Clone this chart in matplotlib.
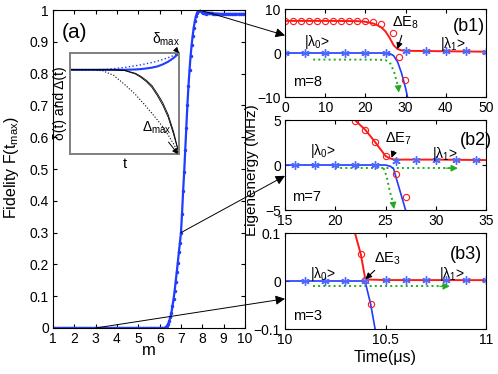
import matplotlib
matplotlib.use("Agg")
import matplotlib.pyplot as plt
from matplotlib.patches import ConnectionPatch

plt.rcParams['font.family'] = ['Liberation Sans', 'DejaVu Sans']
plt.rcParams['mathtext.fontset'] = 'custom'
plt.rcParams['mathtext.rm'] = 'Liberation Sans'
plt.rcParams['mathtext.it'] = 'Liberation Sans:italic'
plt.rcParams['mathtext.default'] = 'rm'

BLUE = '#1f3cff'
RED = '#ff1a1a'
GREEN = '#22aa22'
STAR = '#4f6bff'

# ---------------- data: panel (a) ----------------
m_vals = [1.0, 1.1, 1.2, 1.3, 1.4, 1.5, 1.6, 1.7, 1.8, 1.9,
          2.0, 2.1, 2.2, 2.3, 2.4, 2.5, 2.6, 2.7, 2.8, 2.9,
          3.0, 3.1, 3.2, 3.3, 3.4, 3.5, 3.6, 3.7, 3.8, 3.9,
          4.0, 4.1, 4.2, 4.3, 4.4, 4.5, 4.6, 4.7, 4.8, 4.9,
          5.0, 5.1, 5.2, 5.3, 5.4, 5.5, 5.6, 5.7, 5.8, 5.9,
          6.0, 6.1, 6.2, 6.25, 6.3, 6.35, 6.4, 6.45, 6.5, 6.55,
          6.6, 6.65, 6.7, 6.75, 6.8, 6.85, 6.9, 6.95, 7.0, 7.05,
          7.1, 7.15, 7.2, 7.25, 7.3, 7.35, 7.4, 7.45, 7.5, 7.55,
          7.6, 7.65, 7.7, 7.75, 7.8, 7.85, 7.9, 7.95, 8.0, 8.05,
          8.1, 8.15, 8.2, 8.25, 8.3, 8.35, 8.4, 8.45, 8.5,
          8.6, 8.7, 8.8, 8.9, 9.0, 9.1, 9.2, 9.3, 9.4, 9.5,
          9.6, 9.7, 9.8, 9.9, 10.0]
fidelity = [0, 0, 0, 0, 0, 0, 0, 0, 0, 0,
            0, 0, 0, 0, 0, 0, 0, 0, 0, 0,
            0, 0, 0, 0, 0, 0, 0, 0, 0, 0,
            0, 0, 0, 0, 0, 0, 0, 0, 0, 0,
            0, 0, 0, 0, 0, 0, 0, 0, 0, 0,
            0, 0, 0, 0.001, 0.003, 0.007, 0.013, 0.022, 0.034, 0.047,
            0.068, 0.09, 0.115, 0.145, 0.175, 0.205, 0.238, 0.268, 0.30, 0.36,
            0.43, 0.49, 0.56, 0.63, 0.70, 0.76, 0.81, 0.855, 0.89, 0.92,
            0.945, 0.965, 0.98, 0.99, 0.997, 1.0, 1.0, 0.998, 0.995, 0.992,
            0.99, 0.989, 0.99, 0.991, 0.991, 0.99, 0.99, 0.99, 0.989,
            0.989, 0.989, 0.988, 0.988, 0.988, 0.988, 0.988, 0.988, 0.988, 0.988,
            0.988, 0.988, 0.988, 0.988, 0.988]
a_xticks = [1, 2, 3, 4, 5, 6, 7, 8, 9, 10]
a_yticks = [0, 0.1, 0.2, 0.3, 0.4, 0.5, 0.6, 0.7, 0.8, 0.9, 1.0]
a_yticklabels = ['0', '0.1', '0.2', '0.3', '0.4', '0.5', '0.6', '0.7', '0.8', '0.9', '1']

# inset (schematic delta(t), Delta(t))
in_t = [0.0, 0.1, 0.2, 0.3, 0.4, 0.5, 0.6, 0.65, 0.7, 0.75, 0.8, 0.85, 0.9, 0.95, 1.0]
in_delta_solid = [0.835, 0.835, 0.835, 0.835, 0.835, 0.835, 0.838, 0.842, 0.848, 0.856, 0.868, 0.888, 0.915, 0.952, 1.0]
in_delta_dot = [0.835, 0.835, 0.835, 0.837, 0.845, 0.858, 0.875, 0.884, 0.895, 0.907, 0.92, 0.936, 0.955, 0.976, 1.0]
in_Delta_solid = [0.835, 0.835, 0.835, 0.835, 0.834, 0.83, 0.80, 0.77, 0.73, 0.68, 0.60, 0.51, 0.39, 0.22, 0.0]
in_Delta_solid2 = [0.835, 0.835, 0.835, 0.835, 0.834, 0.827, 0.793, 0.76, 0.717, 0.662, 0.58, 0.485, 0.365, 0.195, 0.0]
in_Delta_dot = [0.835, 0.835, 0.835, 0.825, 0.78, 0.69, 0.59, 0.53, 0.47, 0.405, 0.34, 0.27, 0.19, 0.1, 0.0]

# ---------------- data: panel (b1), m=8 ----------------
b1_red_t = [0, 10, 18, 20, 22, 23, 24, 25, 26, 27, 28, 29, 30, 35, 40, 45, 50]
b1_red_E = [7.3, 7.3, 7.25, 7.1, 6.7, 6.3, 5.8, 4.9, 3.5, 1.8, 0.9, 0.6, 0.5, 0.45, 0.4, 0.35, 0.3]
b1_blue_t = [0, 25, 26, 27, 28, 29, 30, 30.6]
b1_blue_E = [0, 0, -0.1, -0.6, -2.0, -4.6, -8.0, -10.5]
b1_circ_t = [0, 2, 4, 6, 8, 10, 12, 14, 16, 18, 20, 22, 24, 26.9, 28.3, 29.8]
b1_circ_E = [7.3, 7.3, 7.3, 7.3, 7.3, 7.3, 7.3, 7.3, 7.3, 7.3, 7.2, 7.0, 6.6, 4.6, -0.8, -6.2]
b1_star_t = [0, 5, 10, 15, 20, 25, 30, 35, 40, 45, 50]
b1_star_E = [0, 0, 0, 0, 0, 0, 0.5, 0.45, 0.4, 0.35, 0.3]
b1_green_t = [7, 15, 22, 25, 26.3, 27.2, 27.8, 28.2]
b1_green_E = [-1.5, -1.5, -1.5, -1.6, -2.5, -4.5, -6.5, -8.0]

# ---------------- data: panel (b2), m=7 ----------------
b2_red_t = [21.9, 23, 24, 25, 25.4, 25.8, 26.5, 30, 35]
b2_red_E = [5.05, 3.9, 2.5, 1.0, 0.75, 0.63, 0.6, 0.6, 0.55]
b2_blue_t = [15, 25, 25.5, 25.8, 26, 26.5, 27.1]
b2_blue_E = [0, 0, -0.15, -0.4, -1.2, -3.1, -5.4]
b2_circ_t = [22, 23, 24, 25, 26, 27]
b2_circ_E = [4.9, 3.9, 2.6, 1.0, -1.0, -3.6]
b2_star_t = [16, 18, 20, 22, 24, 26, 28, 30, 32, 34]
b2_star_E = [0, 0, 0, 0, 0, 0.5, 0.55, 0.55, 0.55, 0.55]
b2_green_t = [20, 31.8]
b2_green_E = [-0.35, -0.35]
b2_green2_t = [24.8, 25.1, 25.4, 25.8]
b2_green2_E = [-0.35, -1.2, -2.8, -4.4]

# ---------------- data: panel (b3), m=3 ----------------
b3_red_t = [10.348, 10.377, 10.399, 10.42, 10.5, 11.0]
b3_red_E = [0.1, 0.056, 0.005, 0.003, 0.002, 0.0018]
b3_blue_t = [10.0, 10.398, 10.426, 10.45]
b3_blue_E = [0.0, 0.0, -0.048, -0.104]
b3_circ_t = [10.377, 10.399, 10.426]
b3_circ_E = [0.056, 0.003, -0.048]
b3_star_t = [10.1, 10.2, 10.3, 10.4, 10.5, 10.6, 10.7, 10.8, 10.9, 11.0]
b3_star_E = [0, 0, 0, 0.001, 0.002, 0.002, 0.002, 0.002, 0.002, 0.002]
b3_green_t = [10.14, 10.8]
b3_green_E = [-0.011, -0.011]

# ---------------- figure ----------------
fig = plt.figure(figsize=(4.98, 3.74), dpi=100)

ax_a = fig.add_axes([0.1064, 0.123, 0.3855, 0.850])
ax_a.plot(m_vals, fidelity, '-', color=BLUE, lw=1.6, marker='.', ms=3.0)
ax_a.set_xlim(1, 10)
ax_a.set_ylim(0, 1)
ax_a.set_xticks(a_xticks)
ax_a.set_yticks(a_yticks)
ax_a.set_yticklabels(a_yticklabels)
ax_a.tick_params(direction='in', top=True, right=True, length=3, labelsize=10, pad=3)
ax_a.text(2.0, 0.93, '(a)', fontsize=15, ha='center', va='center')

fig.text(0.024, 0.553, 'Fidelity F(t$_{max}$)', rotation=90, ha='center', va='center', fontsize=11.5)
fig.text(0.298, 0.062, 'm', ha='center', va='center', fontsize=12)

# inset
ax_in = fig.add_axes([0.1406, 0.588, 0.219, 0.270])
ax_in.plot(in_t, in_delta_dot, ':', color=BLUE, lw=1.0)
ax_in.plot(in_t, in_delta_solid, '-', color=BLUE, lw=1.5)
ax_in.plot(in_t, in_Delta_dot, ':', color='k', lw=0.8)
ax_in.plot(in_t, in_Delta_solid, '-', color='k', lw=0.6)
ax_in.plot(in_t, in_Delta_solid2, '-', color='k', lw=0.6)
ax_in.set_xlim(0, 1)
ax_in.set_ylim(0, 1)
ax_in.set_xticks([])
ax_in.set_yticks([])
for sp in ax_in.spines.values():
    sp.set_color('#7f7f7f')
    sp.set_linewidth(1.4)
ax_in.set_ylabel('δ(t) and Δ(t)', fontsize=10, labelpad=2)
ax_in.set_xlabel('t', fontsize=10.5, labelpad=2)
ax_in.annotate('δ$_{max}$', xy=(1.0, 1.0), xycoords='axes fraction', xytext=(0.88, 1.14),
               textcoords='axes fraction', fontsize=10, ha='center', va='center',
               arrowprops=dict(arrowstyle='-|>', color='k', lw=0.7, mutation_scale=8, shrinkA=3, shrinkB=0))
ax_in.annotate('Δ$_{max}$', xy=(0.99, 0.0), xycoords='axes fraction', xytext=(0.8, 0.26),
               textcoords='axes fraction', fontsize=10, ha='center', va='center',
               arrowprops=dict(arrowstyle='-|>', color='k', lw=0.7, mutation_scale=8, shrinkA=3, shrinkB=0))


def style_b(ax):
    ax.tick_params(direction='in', top=True, right=True, length=3, labelsize=10, pad=3)


arr_small = dict(arrowstyle='-|>', color='k', lw=0.8, mutation_scale=9, shrinkA=1, shrinkB=0)

# b1
ax_b1 = fig.add_axes([0.5723, 0.7406, 0.4036, 0.2353])
ax_b1.plot(b1_green_t, b1_green_E, ':', color=GREEN, lw=1.4)
ax_b1.annotate('', xy=(28.3, -9.0), xytext=(28.2, -8.0),
               arrowprops=dict(arrowstyle='-|>', color=GREEN, lw=0.8, mutation_scale=10, shrinkA=0, shrinkB=0))
ax_b1.plot(b1_blue_t, b1_blue_E, '-', color=BLUE, lw=1.2)
ax_b1.plot(b1_red_t, b1_red_E, '-', color=RED, lw=1.4)
ax_b1.plot(b1_circ_t, b1_circ_E, 'o', mfc='none', mec=RED, ms=4.5, mew=0.8)
ax_b1.plot(b1_star_t, b1_star_E, ls='none', marker=(6, 2, 0), color=STAR, ms=6, mew=1.0)
ax_b1.set_xlim(0, 50)
ax_b1.set_ylim(-10, 10)
ax_b1.set_xticks([0, 10, 20, 30, 40, 50])
ax_b1.set_yticks([-10, 0, 10])
ax_b1.set_yticklabels(['\u221210', '0', '10'])
style_b(ax_b1)
ax_b1.text(8.0, 2.4, '|λ$_0$>', fontsize=10, ha='center', va='center')
ax_b1.text(41.8, 2.1, '|λ$_1$>', fontsize=10, ha='center', va='center')
ax_b1.text(45.8, 6.1, '(b1)', fontsize=13, ha='center', va='center')
ax_b1.text(2.0, -6.5, 'm=8', fontsize=10.5, ha='left', va='center')
ax_b1.annotate('ΔE$_8$', xy=(28.0, 0.9), xytext=(30.0, 6.8), fontsize=10.5, ha='center', va='center',
               arrowprops=arr_small)

# b2
ax_b2 = fig.add_axes([0.5723, 0.4385, 0.4036, 0.2406])
ax_b2.plot(b2_green_t, b2_green_E, ':', color=GREEN, lw=1.4)
ax_b2.plot(b2_green2_t, b2_green2_E, ':', color=GREEN, lw=1.4)
ax_b2.annotate('', xy=(32.2, -0.35), xytext=(31.0, -0.35),
               arrowprops=dict(arrowstyle='-|>', color=GREEN, lw=0.8, mutation_scale=10, shrinkA=0, shrinkB=0))
ax_b2.annotate('', xy=(25.85, -4.9), xytext=(25.75, -4.2),
               arrowprops=dict(arrowstyle='-|>', color=GREEN, lw=0.8, mutation_scale=10, shrinkA=0, shrinkB=0))
ax_b2.plot(b2_blue_t, b2_blue_E, '-', color=BLUE, lw=1.2)
ax_b2.plot(b2_red_t, b2_red_E, '-', color=RED, lw=1.4)
ax_b2.plot(b2_circ_t, b2_circ_E, 'o', mfc='none', mec=RED, ms=4.5, mew=0.8)
ax_b2.plot(b2_star_t, b2_star_E, ls='none', marker=(6, 2, 0), color=STAR, ms=6, mew=1.0)
ax_b2.set_xlim(15, 35)
ax_b2.set_ylim(-5, 5)
ax_b2.set_xticks([15, 20, 25, 30, 35])
ax_b2.set_yticks([-5, 0, 5])
ax_b2.set_yticklabels(['\u22125', '0', '5'])
style_b(ax_b2)
ax_b2.text(18.8, 1.6, '|λ$_0$>', fontsize=10, ha='center', va='center')
ax_b2.text(30.9, 1.2, '|λ$_1$>', fontsize=10, ha='center', va='center')
ax_b2.text(34.0, 2.7, '(b2)', fontsize=13, ha='center', va='center')
ax_b2.text(15.7, -3.6, 'm=7', fontsize=10.5, ha='left', va='center')
ax_b2.annotate('ΔE$_7$', xy=(25.6, 0.8), xytext=(26.3, 2.9), fontsize=10.5, ha='center', va='center',
               arrowprops=arr_small)

# b3
ax_b3 = fig.add_axes([0.5723, 0.1203, 0.4036, 0.2567])
ax_b3.plot(b3_green_t, b3_green_E, ':', color=GREEN, lw=1.4)
ax_b3.annotate('', xy=(10.82, -0.011), xytext=(10.77, -0.011),
               arrowprops=dict(arrowstyle='-|>', color=GREEN, lw=0.8, mutation_scale=10, shrinkA=0, shrinkB=0))
ax_b3.plot(b3_blue_t, b3_blue_E, '-', color=BLUE, lw=1.2)
ax_b3.plot(b3_red_t, b3_red_E, '-', color=RED, lw=1.4)
ax_b3.plot(b3_circ_t, b3_circ_E, 'o', mfc='none', mec=RED, ms=4.5, mew=0.8)
ax_b3.plot(b3_star_t, b3_star_E, ls='none', marker=(6, 2, 0), color=STAR, ms=6, mew=1.0)
ax_b3.set_xlim(10, 11)
ax_b3.set_ylim(-0.1, 0.1)
ax_b3.set_xticks([10, 10.5, 11])
ax_b3.set_xticklabels(['10', '10.5', '11'])
ax_b3.set_yticks([-0.1, 0, 0.1])
ax_b3.set_yticklabels(['\u22120.1', '0', '0.1'])
style_b(ax_b3)
ax_b3.text(10.19, 0.014, '|λ$_0$>', fontsize=10, ha='center', va='center')
ax_b3.text(10.83, 0.014, '|λ$_1$>', fontsize=10, ha='center', va='center')
ax_b3.text(10.9, 0.055, '(b3)', fontsize=13, ha='center', va='center')
ax_b3.text(10.04, -0.072, 'm=3', fontsize=10.5, ha='left', va='center')
ax_b3.annotate('ΔE$_3$', xy=(10.4, 0.004), xytext=(10.51, 0.047), fontsize=10.5, ha='center', va='center',
               arrowprops=arr_small)

fig.text(0.506, 0.545, 'Eigenenergy (MHz)', rotation=90, ha='center', va='center', fontsize=11)
fig.text(0.773, 0.045, 'Time(μs)', ha='center', va='center', fontsize=11.5)

# connecting arrows from panel (a) to panels (b)
for (xa, ya), axb, (xb, yb) in [((7.9, 1.0), ax_b1, (0, 4.0)),
                                  ((7.0, 0.30), ax_b2, (15, -1.2)),
                                  ((3.0, 0.0), ax_b3, (10, -0.037))]:
    con = ConnectionPatch(xyA=(xa, ya), coordsA=ax_a.transData,
                          xyB=(xb, yb), coordsB=axb.transData,
                          arrowstyle='-|>', mutation_scale=14, color='k', lw=0.7,
                          shrinkA=0, shrinkB=0)
    con.set_clip_on(False)
    fig.add_artist(con)

fig.savefig('out.png', dpi=100)
